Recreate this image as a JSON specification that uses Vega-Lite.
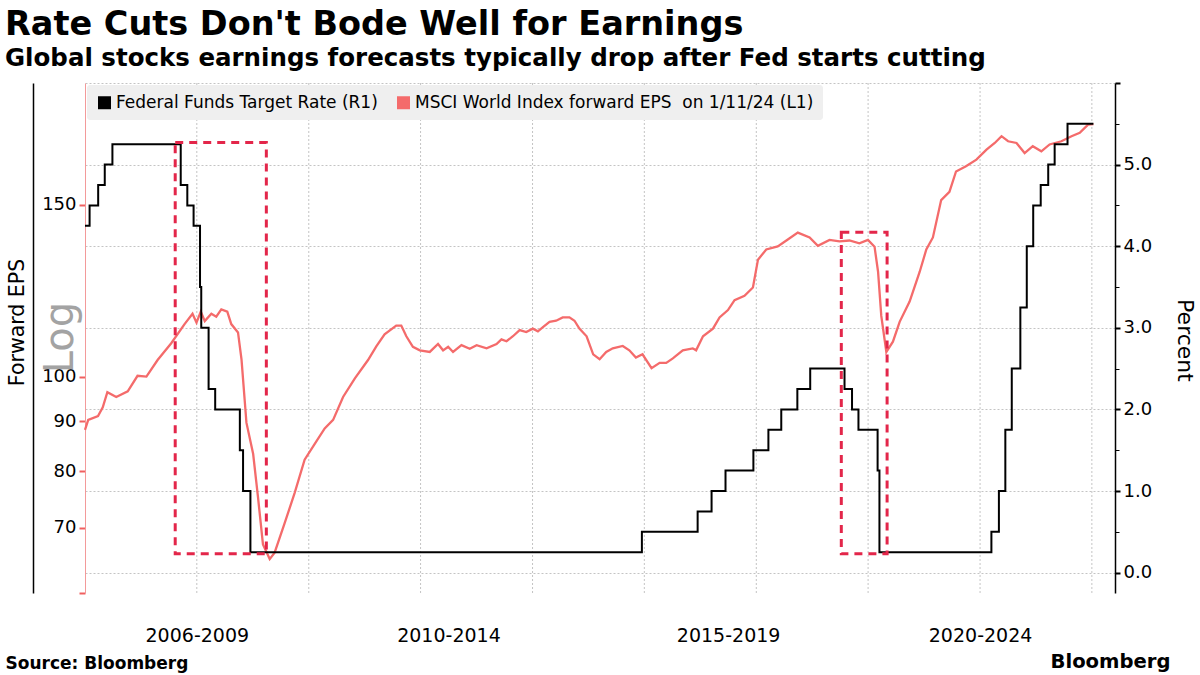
{
  "$schema": "https://vega.github.io/schema/vega-lite/v6.json",
  "width": 1030,
  "height": 510,
  "autosize": {"type": "none"},
  "padding": {"left": 85, "top": 83, "right": 85, "bottom": 82},
  "background": "white",
  "config": {"view": {"stroke": null}},
  "title": {
    "text": "Rate Cuts Don't Bode Well for Earnings",
    "subtitle": "Global stocks earnings forecasts typically drop after Fed starts cutting",
    "anchor": "start",
    "frame": "group",
    "dx": -80,
    "offset": 11,
    "font": "DejaVu Sans",
    "fontSize": 33.5,
    "fontWeight": "bold",
    "color": "#000000",
    "subtitleFont": "DejaVu Sans",
    "subtitleFontSize": 24.5,
    "subtitleFontWeight": "bold",
    "subtitleColor": "#000000",
    "subtitlePadding": 4
  },
  "datasets": {
    "eps": [
      {"date": "2006-01-01", "eps": 88.2},
      {"date": "2006-01-22", "eps": 90.3},
      {"date": "2006-03-27", "eps": 91.1},
      {"date": "2006-04-27", "eps": 93.0},
      {"date": "2006-05-27", "eps": 96.4},
      {"date": "2006-07-24", "eps": 95.3},
      {"date": "2006-10-07", "eps": 96.6},
      {"date": "2006-12-10", "eps": 100.2},
      {"date": "2007-02-06", "eps": 100.0},
      {"date": "2007-04-20", "eps": 104.0},
      {"date": "2007-07-18", "eps": 108.2},
      {"date": "2007-10-13", "eps": 113.2},
      {"date": "2007-12-04", "eps": 116.0},
      {"date": "2007-12-30", "eps": 113.6},
      {"date": "2008-01-27", "eps": 116.6},
      {"date": "2008-02-22", "eps": 114.0},
      {"date": "2008-04-05", "eps": 116.0},
      {"date": "2008-05-07", "eps": 115.2},
      {"date": "2008-06-09", "eps": 117.2},
      {"date": "2008-07-18", "eps": 116.6},
      {"date": "2008-08-13", "eps": 113.2},
      {"date": "2008-09-26", "eps": 111.0},
      {"date": "2008-10-19", "eps": 104.1},
      {"date": "2008-11-20", "eps": 89.7},
      {"date": "2009-01-03", "eps": 83.3},
      {"date": "2009-02-04", "eps": 75.1},
      {"date": "2009-03-08", "eps": 67.3},
      {"date": "2009-04-21", "eps": 65.0},
      {"date": "2009-05-23", "eps": 66.0},
      {"date": "2009-07-27", "eps": 70.7},
      {"date": "2009-10-01", "eps": 76.0},
      {"date": "2009-12-05", "eps": 82.2},
      {"date": "2010-02-09", "eps": 85.3},
      {"date": "2010-04-15", "eps": 88.5},
      {"date": "2010-06-09", "eps": 90.3},
      {"date": "2010-08-13", "eps": 95.3},
      {"date": "2010-10-29", "eps": 99.6},
      {"date": "2011-01-23", "eps": 104.0},
      {"date": "2011-03-18", "eps": 107.4},
      {"date": "2011-05-11", "eps": 110.5},
      {"date": "2011-07-26", "eps": 112.8},
      {"date": "2011-08-28", "eps": 112.8},
      {"date": "2011-09-30", "eps": 110.0},
      {"date": "2011-11-12", "eps": 107.3},
      {"date": "2011-12-27", "eps": 106.4},
      {"date": "2012-03-01", "eps": 106.0},
      {"date": "2012-04-24", "eps": 108.0},
      {"date": "2012-05-27", "eps": 106.4},
      {"date": "2012-06-29", "eps": 107.3},
      {"date": "2012-07-31", "eps": 106.0},
      {"date": "2012-09-24", "eps": 107.7},
      {"date": "2012-11-17", "eps": 106.8},
      {"date": "2013-01-01", "eps": 107.7},
      {"date": "2013-03-07", "eps": 106.9},
      {"date": "2013-05-11", "eps": 108.0},
      {"date": "2013-06-12", "eps": 109.2},
      {"date": "2013-07-15", "eps": 108.7},
      {"date": "2013-08-26", "eps": 110.0},
      {"date": "2013-10-09", "eps": 111.6},
      {"date": "2013-11-21", "eps": 111.1},
      {"date": "2014-01-03", "eps": 112.0},
      {"date": "2014-02-05", "eps": 111.3},
      {"date": "2014-03-10", "eps": 112.4},
      {"date": "2014-04-22", "eps": 113.8},
      {"date": "2014-06-04", "eps": 114.1},
      {"date": "2014-07-17", "eps": 115.0},
      {"date": "2014-08-30", "eps": 115.0},
      {"date": "2014-10-02", "eps": 114.1},
      {"date": "2014-11-03", "eps": 112.0},
      {"date": "2014-12-20", "eps": 110.0},
      {"date": "2015-02-01", "eps": 105.4},
      {"date": "2015-03-15", "eps": 104.2},
      {"date": "2015-04-27", "eps": 106.0},
      {"date": "2015-06-09", "eps": 106.9},
      {"date": "2015-08-13", "eps": 107.5},
      {"date": "2015-09-25", "eps": 106.4},
      {"date": "2015-11-07", "eps": 104.6},
      {"date": "2015-12-20", "eps": 105.4},
      {"date": "2016-02-17", "eps": 102.0},
      {"date": "2016-04-10", "eps": 103.3},
      {"date": "2016-05-23", "eps": 103.3},
      {"date": "2016-07-05", "eps": 104.4},
      {"date": "2016-09-08", "eps": 106.4},
      {"date": "2016-11-12", "eps": 106.9},
      {"date": "2016-12-04", "eps": 106.4},
      {"date": "2017-01-18", "eps": 110.0},
      {"date": "2017-03-24", "eps": 112.0},
      {"date": "2017-05-06", "eps": 115.0},
      {"date": "2017-06-30", "eps": 117.0},
      {"date": "2017-08-12", "eps": 119.8},
      {"date": "2017-10-16", "eps": 121.0},
      {"date": "2017-12-10", "eps": 123.4},
      {"date": "2018-01-12", "eps": 131.8},
      {"date": "2018-03-07", "eps": 135.0},
      {"date": "2018-05-21", "eps": 136.0},
      {"date": "2018-07-14", "eps": 137.8},
      {"date": "2018-09-29", "eps": 140.5},
      {"date": "2018-12-15", "eps": 138.9},
      {"date": "2019-02-07", "eps": 136.2},
      {"date": "2019-04-24", "eps": 138.1},
      {"date": "2019-06-28", "eps": 137.6},
      {"date": "2019-09-01", "eps": 137.9},
      {"date": "2019-11-05", "eps": 137.0},
      {"date": "2019-12-31", "eps": 138.1},
      {"date": "2020-02-12", "eps": 135.9},
      {"date": "2020-03-06", "eps": 128.1},
      {"date": "2020-03-27", "eps": 115.4},
      {"date": "2020-04-29", "eps": 106.0},
      {"date": "2020-06-11", "eps": 108.6},
      {"date": "2020-07-25", "eps": 113.8},
      {"date": "2020-09-28", "eps": 119.4},
      {"date": "2020-12-03", "eps": 128.1},
      {"date": "2021-01-15", "eps": 135.0},
      {"date": "2021-02-27", "eps": 138.9},
      {"date": "2021-04-22", "eps": 151.7},
      {"date": "2021-06-15", "eps": 154.7},
      {"date": "2021-07-28", "eps": 162.3},
      {"date": "2021-10-01", "eps": 164.3},
      {"date": "2021-12-08", "eps": 166.9},
      {"date": "2022-02-12", "eps": 170.9},
      {"date": "2022-04-07", "eps": 173.6},
      {"date": "2022-05-21", "eps": 176.4},
      {"date": "2022-07-03", "eps": 174.3},
      {"date": "2022-08-27", "eps": 173.6},
      {"date": "2022-10-19", "eps": 169.5},
      {"date": "2022-12-11", "eps": 172.3},
      {"date": "2023-02-05", "eps": 170.2},
      {"date": "2023-03-31", "eps": 173.0},
      {"date": "2023-06-16", "eps": 174.3},
      {"date": "2023-08-21", "eps": 176.4},
      {"date": "2023-10-14", "eps": 177.8},
      {"date": "2023-12-07", "eps": 181.3},
      {"date": "2024-01-11", "eps": 181.5}
    ],
    "fed": [
      {"date": "2006-01-01", "rate": 4.25},
      {"date": "2006-01-31", "rate": 4.5},
      {"date": "2006-03-28", "rate": 4.75},
      {"date": "2006-05-10", "rate": 5.0},
      {"date": "2006-06-29", "rate": 5.25},
      {"date": "2007-09-18", "rate": 4.75},
      {"date": "2007-10-31", "rate": 4.5},
      {"date": "2007-12-11", "rate": 4.25},
      {"date": "2008-01-22", "rate": 3.5},
      {"date": "2008-01-30", "rate": 3.0},
      {"date": "2008-03-18", "rate": 2.25},
      {"date": "2008-04-30", "rate": 2.0},
      {"date": "2008-10-08", "rate": 1.5},
      {"date": "2008-10-29", "rate": 1.0},
      {"date": "2008-12-16", "rate": 0.25},
      {"date": "2015-12-16", "rate": 0.5},
      {"date": "2016-12-14", "rate": 0.75},
      {"date": "2017-03-15", "rate": 1.0},
      {"date": "2017-06-14", "rate": 1.25},
      {"date": "2017-12-13", "rate": 1.5},
      {"date": "2018-03-21", "rate": 1.75},
      {"date": "2018-06-13", "rate": 2.0},
      {"date": "2018-09-26", "rate": 2.25},
      {"date": "2018-12-19", "rate": 2.5},
      {"date": "2019-07-31", "rate": 2.25},
      {"date": "2019-09-18", "rate": 2.0},
      {"date": "2019-10-30", "rate": 1.75},
      {"date": "2020-03-03", "rate": 1.25},
      {"date": "2020-03-15", "rate": 0.25},
      {"date": "2022-03-16", "rate": 0.5},
      {"date": "2022-05-04", "rate": 1.0},
      {"date": "2022-06-15", "rate": 1.75},
      {"date": "2022-07-27", "rate": 2.5},
      {"date": "2022-09-21", "rate": 3.25},
      {"date": "2022-11-02", "rate": 4.0},
      {"date": "2022-12-14", "rate": 4.5},
      {"date": "2023-02-01", "rate": 4.75},
      {"date": "2023-03-22", "rate": 5.0},
      {"date": "2023-05-03", "rate": 5.25},
      {"date": "2023-07-26", "rate": 5.5},
      {"date": "2024-01-11", "rate": 5.5}
    ],
    "boxes": [
      {"id": 1, "date": "2007-08-13", "date_end": "2009-03-30", "top": 5.27, "bottom": 0.23},
      {"id": 2, "date": "2019-07-10", "date_end": "2020-05-04", "top": 4.17, "bottom": 0.23}
    ],
    "grid": [
      {"date": "2008-01-01"},
      {"date": "2010-01-01"},
      {"date": "2012-01-01"},
      {"date": "2014-01-01"},
      {"date": "2016-01-01"},
      {"date": "2018-01-01"},
      {"date": "2020-01-01"},
      {"date": "2022-01-01"},
      {"date": "2024-01-01"}
    ]
  },
  "encoding": {
    "x": {
      "field": "date",
      "type": "temporal",
      "scale": {
        "domain": [
          {"year": 2006, "month": 1, "date": 1, "utc": true},
          {"year": 2024, "month": 5, "date": 31, "utc": true}
        ]
      },
      "axis": {
        "values": [
          {"year": 2008, "month": 1, "date": 1, "utc": true},
          {"year": 2012, "month": 7, "date": 1, "utc": true},
          {"year": 2017, "month": 7, "date": 1, "utc": true},
          {"year": 2022, "month": 1, "date": 1, "utc": true}
        ],
        "labelExpr": "utcyear(datum.value) == 2008 ? '2006-2009' : utcyear(datum.value) == 2012 ? '2010-2014' : utcyear(datum.value) == 2017 ? '2015-2019' : '2020-2024'",
        "ticks": false,
        "domain": false,
        "grid": false,
        "labelFont": "DejaVu Sans",
        "labelFontSize": 19,
        "labelColor": "#000000",
        "labelBaseline": "alphabetic",
        "labelPadding": 48,
        "labelFlush": false,
        "labelOverlap": false,
        "title": "Source: Bloomberg",
        "titleFont": "DejaVu Sans",
        "titleFontSize": 17,
        "titleFontWeight": "bold",
        "titleColor": "#000000",
        "titleAnchor": "start",
        "titleAlign": "left",
        "titleBaseline": "alphabetic",
        "titleX": -80,
        "titleY": 75
      }
    }
  },
  "layer": [
    {
      "data": {"name": "grid"},
      "mark": {"type": "rule", "color": "#c4c4c4", "strokeWidth": 1, "strokeDash": [2, 2]},
      "encoding": {}
    },
    {
      "data": {"name": "eps"},
      "mark": {"type": "line", "strokeWidth": 2.3},
      "encoding": {
        "y": {
          "field": "eps",
          "type": "quantitative",
          "scale": {"type": "log", "domain": [60, 200], "nice": false},
          "axis": {
            "orient": "left",
            "values": [60, 70, 80, 90, 100, 150],
            "labelExpr": "datum.value == 60 ? '' : datum.label",
            "grid": false,
            "domainColor": "#f39a9a",
            "domainWidth": 1,
            "tickColor": "#f06060",
            "tickSize": 6,
            "tickWidth": 2,
            "labelFont": "DejaVu Sans",
            "labelFontSize": 18,
            "labelColor": "#000000",
            "labelPadding": 3,
            "title": "Log",
            "titleColor": "#a3a3a3",
            "titleFont": "DejaVu Sans",
            "titleFontSize": 40,
            "titleFontWeight": "normal",
            "titleAngle": -90,
            "titleAlign": "center",
            "titleBaseline": "alphabetic",
            "titleX": -13,
            "titleY": 254
          }
        },
        "color": {
          "datum": "MSCI World Index forward EPS\u00a0 on 1/11/24 (L1)",
          "type": "nominal",
          "scale": {
            "domain": ["Federal Funds Target Rate (R1)", "MSCI World Index forward EPS\u00a0 on 1/11/24 (L1)"],
            "range": ["#000000", "#f46b6b"]
          },
          "legend": {
            "orient": "top-left",
            "direction": "horizontal",
            "title": null,
            "offset": 2,
            "padding": 9,
            "fillColor": "#efefef",
            "cornerRadius": 3,
            "symbolType": "square",
            "symbolSize": 169,
            "symbolStrokeWidth": 0,
            "labelFont": "DejaVu Sans",
            "labelFontSize": 17,
            "labelColor": "#000000",
            "labelOffset": 3,
            "columnPadding": 17,
            "labelLimit": 600,
            "encode": {
              "symbols": {"update": {"fill": {"scale": "color", "field": "value"}, "strokeWidth": {"value": 0}, "opacity": {"value": 1}}}
            }
          }
        }
      }
    },
    {
      "data": {"name": "fed"},
      "mark": {"type": "line", "strokeWidth": 2, "interpolate": "step-after"},
      "encoding": {
        "y": {
          "field": "rate",
          "type": "quantitative",
          "scale": {"domain": [-0.25, 6], "nice": false, "zero": false},
          "axis": {
            "orient": "right",
            "values": [0, 1, 2, 3, 4, 5, 6],
            "labelExpr": "datum.value <= 5 ? format(datum.value, '.1f') : ''",
            "grid": true,
            "gridColor": "#c4c4c4",
            "gridDash": [2, 2],
            "gridWidth": 1,
            "domainColor": "#000000",
            "domainWidth": 1.5,
            "tickColor": "#000000",
            "tickSize": 5,
            "tickWidth": 2,
            "labelFont": "DejaVu Sans",
            "labelFontSize": 18,
            "labelColor": "#000000",
            "labelPadding": 3,
            "title": "Percent",
            "titleFont": "DejaVu Sans",
            "titleFontSize": 22,
            "titleFontWeight": "normal",
            "titleColor": "#000000",
            "titleAngle": 90,
            "titleAlign": "center",
            "titleBaseline": "alphabetic",
            "titleX": 62,
            "titleY": 257
          }
        },
        "color": {
          "datum": "Federal Funds Target Rate (R1)",
          "type": "nominal"
        }
      }
    },
    {
      "data": {"name": "boxes"},
      "transform": [{"filter": "datum.id == 1"}],
      "mark": {"type": "rect", "filled": false, "fill": null, "stroke": "#e3264a", "strokeWidth": 3, "strokeDash": [8, 6]},
      "encoding": {
        "x2": {"field": "date_end"},
        "y": {
          "field": "top",
          "type": "quantitative",
          "scale": {"domain": [-0.25, 6], "nice": false, "zero": false},
          "axis": {
            "orient": "left",
            "offset": 52,
            "ticks": false,
            "labels": false,
            "grid": false,
            "domainColor": "#000000",
            "domainWidth": 1.5,
            "title": "Forward EPS",
            "titleFont": "DejaVu Sans",
            "titleFontSize": 20.5,
            "titleFontWeight": "normal",
            "titleColor": "#000000",
            "titleAngle": -90,
            "titleAlign": "center",
            "titleBaseline": "alphabetic",
            "titleX": -10,
            "titleY": 239
          }
        },
        "y2": {"field": "bottom"}
      }
    },
    {
      "data": {"name": "boxes"},
      "transform": [{"filter": "datum.id == 2"}],
      "mark": {"type": "rect", "filled": false, "fill": null, "stroke": "#e3264a", "strokeWidth": 3, "strokeDash": [8, 6]},
      "encoding": {
        "x2": {"field": "date_end"},
        "y": {
          "field": "top",
          "type": "quantitative",
          "scale": {"domain": [-0.25, 6], "nice": false, "zero": false},
          "axis": {
            "orient": "right",
            "values": [0.5, 1.5, 2.5, 3.5, 4.5, 5.5],
            "labels": false,
            "domain": false,
            "grid": false,
            "tickColor": "#000000",
            "tickSize": 4,
            "tickWidth": 1,
            "title": "Bloomberg",
            "titleFont": "DejaVu Sans",
            "titleFontSize": 19.6,
            "titleFontWeight": "bold",
            "titleColor": "#000000",
            "titleAngle": 0,
            "titleAlign": "right",
            "titleBaseline": "alphabetic",
            "titleX": 55,
            "titleY": 584
          }
        },
        "y2": {"field": "bottom"}
      }
    }
  ],
  "resolve": {"scale": {"y": "independent"}, "axis": {"y": "independent"}}
}
